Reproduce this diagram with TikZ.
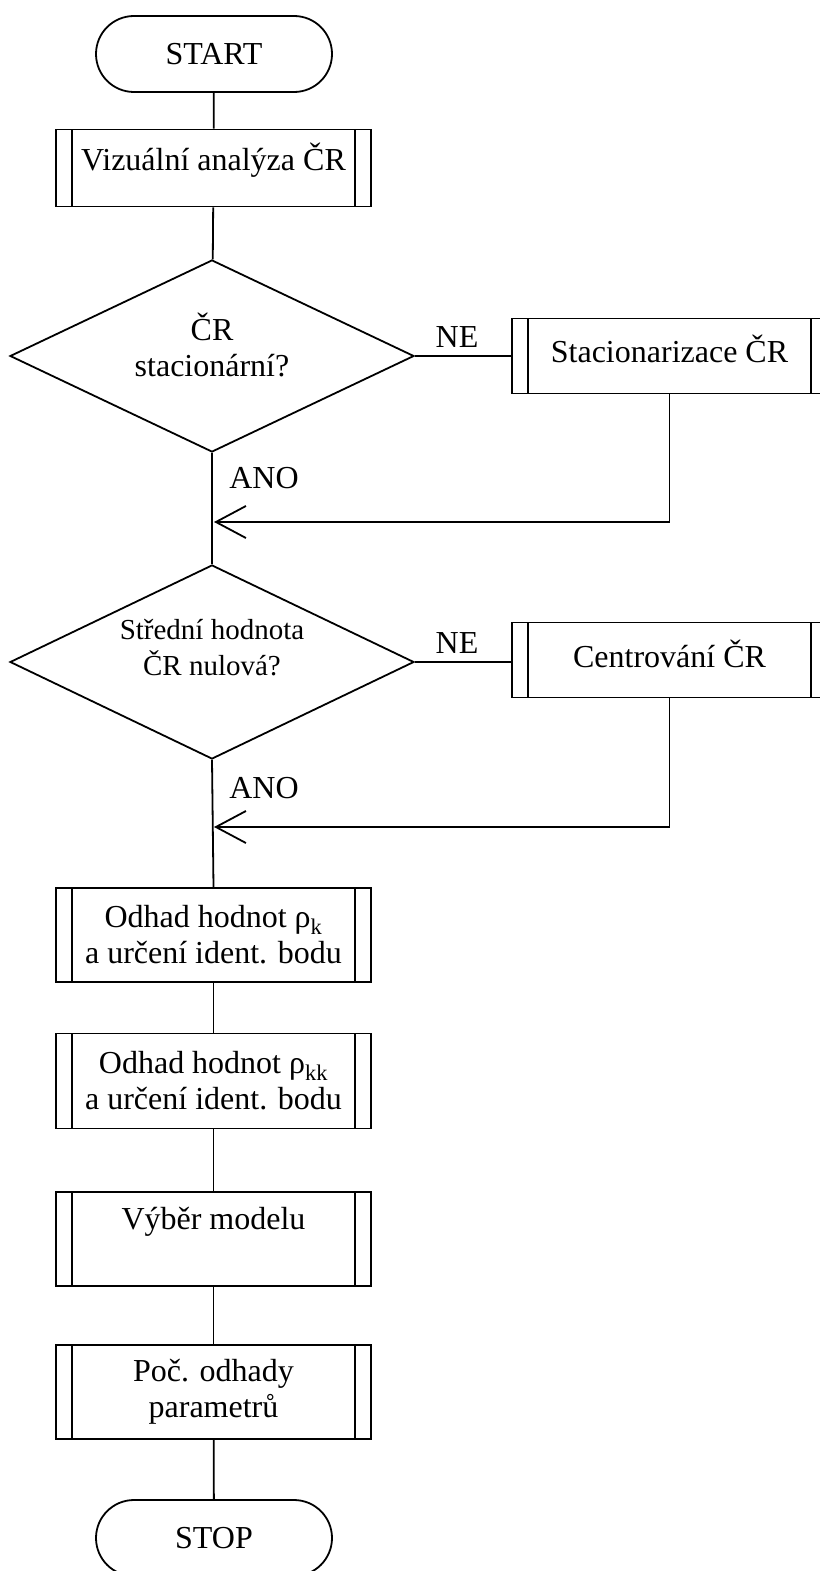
\documentclass[tikz,border=0pt]{standalone}
\usepackage{fontspec}
\setmainfont{Liberation Serif}
\usetikzlibrary{shapes.geometric,shapes.misc,arrows.meta}
\newcommand{\liftup}[2]{\raisebox{#1}[\height][\depth]{#2}}
\begin{document}
\begin{tikzpicture}[x=1pt,y=-1pt,
  every node/.style={font=\fontsize{32}{36}\selectfont},
  conn/.style={line width=1.8pt},
  arr/.style={line width=1.8pt,-{Straight Barb[length=30pt,width=32pt,line width=1.8pt]}},
  term/.style={draw,line width=1.8pt,rounded rectangle,minimum width=236pt,minimum height=76pt,inner sep=0pt},
  sub/.style={draw,line width=1.8pt,rectangle,minimum width=315pt,inner sep=0pt,align=center,
    path picture={
      \draw[line width=1.8pt] ([xshift=16pt]path picture bounding box.north west) -- ([xshift=16pt]path picture bounding box.south west);
      \draw[line width=1.8pt] ([xshift=-16pt]path picture bounding box.north east) -- ([xshift=-16pt]path picture bounding box.south east);
    }},
  dec/.style={draw,diamond,aspect=2.1,line width=1.8pt,minimum width=404pt,minimum height=194pt,inner sep=0pt,align=center},
  lbl/.style={inner sep=0pt}
]
\useasboundingbox (0,0) rectangle (819,1571);

\node[term] (start) at (214,54) {START};
\node[sub,minimum height=77pt] (b1) at (213.5,168) {\liftup{8pt}{Vizuální analýza ČR}};
\node[dec,minimum height=192pt] (d1) at (212,356) {\liftup{6pt}{\begin{tabular}{@{}c@{}}ČR\\stacionární?\end{tabular}}};
\node[sub,minimum height=75pt] (s1) at (669.5,356) {\liftup{7pt}{Stacionarizace ČR}};
\coordinate (m1) at (214,522);
\node[dec] (d2) at (212,662) {\liftup{12pt}{\fontsize{29}{36}\selectfont\begin{tabular}{@{}c@{}}Střední hodnota\\ČR nulová?\end{tabular}}};
\node[sub,minimum height=75pt] (s2) at (669.5,660) {\liftup{6pt}{Centrování ČR}};
\coordinate (m2) at (214,827);
\node[sub,minimum height=94pt] (b3) at (213.5,935) {Odhad hodnot ρ\textsubscript{k}\\a určení ident. bodu};
\node[sub,minimum height=95pt] (b4) at (213.5,1081) {Odhad hodnot ρ\textsubscript{kk}\\a určení ident. bodu};
\node[sub,minimum height=94pt] (b5) at (213.5,1239) {\liftup{17pt}{Výběr modelu}};
\node[sub,minimum height=94pt] (b6) at (213.5,1392) {Poč. odhady\\parametrů};
\node[term] (stop) at (214,1538) {STOP};

\node[lbl] (ne1) at (457,337) {NE};
\node[lbl] (ano1) at (264,478) {ANO};
\node[lbl] (ne2) at (457,643) {NE};
\node[lbl] (ano2) at (264,788) {ANO};

\draw[conn] (start) -- (b1);
\draw[conn] (b1) -- (d1);
\draw[conn] (d1.east) -- (d1.east -| s1.west);
\draw[conn] (d1.south) -- (d2.north);
\draw[arr] (s1.south) |- (m1);
\draw[conn] (d2.east) -- (d2.east -| s2.west);
\draw[conn] (d2.south) -- (b3.north);
\draw[arr] (s2.south) |- (m2);
\draw[conn] (b3) -- (b4);
\draw[conn] (b4) -- (b5);
\draw[conn] (b5) -- (b6);
\draw[conn] (b6) -- (stop);
\end{tikzpicture}
\end{document}
